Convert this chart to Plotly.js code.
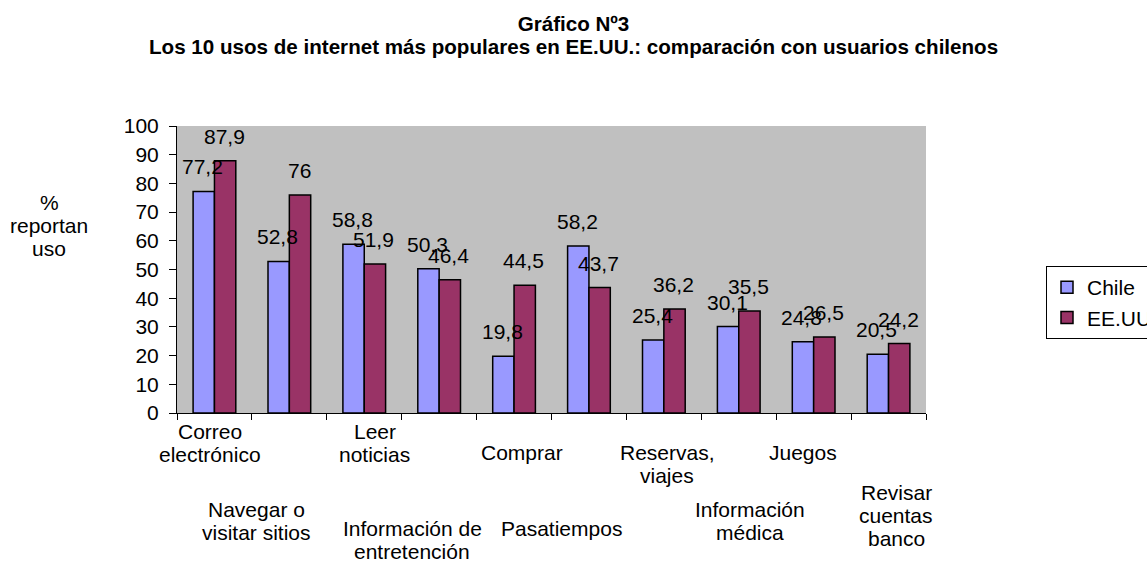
<!DOCTYPE html>
<html>
<head>
<meta charset="utf-8">
<script src="https://cdn.plot.ly/plotly-3.0.1.min.js"></script>
<style>html,body{margin:0;padding:0;background:#fff;}#chart{width:1147px;height:561px;}</style>
</head>
<body>
<div id="chart"></div>
<script>
// ---- data ----
const categories = ["Correo electrónico", "Navegar o visitar sitios", "Leer noticias", "Información de entretención", "Comprar", "Pasatiempos", "Reservas, viajes", "Información médica", "Juegos", "Revisar cuentas banco"];
const categoryLabels = ["Correo<br>electrónico", "Navegar o<br>visitar sitios", "Leer<br>noticias", "Información de<br>entretención", "Comprar", "Pasatiempos", "Reservas,<br>viajes", "Información<br>médica", "Juegos", "Revisar<br>cuentas<br>banco"];
const chile = [77.2, 52.8, 58.8, 50.3, 19.8, 58.2, 25.4, 30.1, 24.8, 20.5];
const eeuu = [87.9, 76, 51.9, 46.4, 44.5, 43.7, 36.2, 35.5, 26.5, 24.2];
const seriesNames = ["Chile", "EE.UU."];
const yTicks = [0, 10, 20, 30, 40, 50, 60, 70, 80, 90, 100];
const titleLines = ["Gráfico Nº3", "Los 10 usos de internet más populares en EE.UU.: comparación con usuarios chilenos"];
const yTitle = "%<br>reportan<br>uso";

// ---- layout constants ----
const FONT = "Liberation Sans, Arial, sans-serif";
const FS = 21;
const LINE_PX = 23;
const W = 1147, H = 561;
const M = {l: 177, r: 221, t: 126, b: 148, autoexpand: false};
const plotW = W - M.l - M.r;
const plotH = H - M.t - M.b;
// staggered category label placement (px): vertical centres and horizontal shifts
const labelCenterPx = [443, 521, 443, 540, 452, 528, 464, 521, 452, 515];
const labelShiftPx = [-4.5, -33, 10.5, -27, 8, -27.5, 3.5, 11, -10.7, 7.5];
const barOffsetPx = 10.7;

const fmt = v => String(v).replace('.', ',');
const pyToPaper = py => (H - M.b - py) / plotH;

const traces = [
  {type: 'bar', name: seriesNames[0], x: categories, y: chile,
   marker: {color: '#9999FF', line: {color: '#000', width: 1.5}}, hoverinfo: 'y'},
  {type: 'bar', name: seriesNames[1], x: categories, y: eeuu,
   marker: {color: '#993366', line: {color: '#000', width: 1.5}}, hoverinfo: 'y'}
];

const annotations = [];
[chile, eeuu].forEach((vals, s) => {
  vals.forEach((v, i) => {
    annotations.push({
      xref: 'x', yref: 'y', x: categories[i], y: v,
      text: fmt(v), showarrow: false,
      xanchor: 'center', yanchor: 'bottom',
      xshift: (s === 0 ? -barOffsetPx : barOffsetPx) - 1, yshift: 11,
      font: {family: FONT, size: FS, color: '#000'}
    });
  });
});
// multi-line text with Excel-like line spacing: one annotation per line
function addLines(text, xref, x, centerPy, xshift) {
  const lines = text.split('<br>');
  const n = lines.length;
  lines.forEach((ln, k) => {
    annotations.push({
      xref: xref, yref: 'paper', x: x, xshift: xshift || 0,
      y: pyToPaper(centerPy + (k - (n - 1) / 2) * LINE_PX),
      text: ln, showarrow: false, xanchor: 'center', yanchor: 'middle',
      font: {family: FONT, size: FS, color: '#000'}
    });
  });
}
categoryLabels.forEach((lab, i) => addLines(lab, 'x', categories[i], labelCenterPx[i], labelShiftPx[i]));
addLines(yTitle, 'paper', (49 - M.l) / plotW, 225, 0);

annotations.push({
  xref: 'paper', yref: 'paper', x: (573.5 - M.l) / plotW, y: pyToPaper(46),
  text: '<b>' + titleLines[1] + '</b>', showarrow: false, xanchor: 'center', yanchor: 'middle',
  font: {family: FONT, size: 20.6, color: '#000'}
});

const layout = {
  width: W, height: H,
  margin: M,
  paper_bgcolor: '#fff',
  plot_bgcolor: '#C0C0C0',
  font: {family: FONT, size: FS, color: '#000'},
  title: {
    text: '<b>' + titleLines[0] + '</b>',
    font: {family: FONT, size: 20.6, color: '#000'},
    x: 0.5, xref: 'container', xanchor: 'center',
    y: 1 - 24 / H, yref: 'container', yanchor: 'middle'
  },
  barmode: 'group',
  bargap: 0.43,
  bargroupgap: 0,
  showlegend: true,
  legend: {
    xref: 'container', yref: 'container',
    x: 1046 / W, y: 1 - 266 / H, xanchor: 'left', yanchor: 'top',
    bgcolor: '#fff', bordercolor: '#000', borderwidth: 1,
    font: {family: FONT, size: FS, color: '#000'},
    traceorder: 'normal'
  },
  xaxis: {
    type: 'category',
    range: [-0.5, categories.length - 0.5],
    autorange: false,
    showticklabels: false,
    ticks: 'outside', ticklen: 6, tickcolor: '#000', tickwidth: 1,
    tickson: 'boundaries',
    showline: true, linecolor: '#000', linewidth: 1,
    showgrid: false, zeroline: false, fixedrange: true
  },
  yaxis: {
    range: [0, 100],
    autorange: false,
    tickvals: yTicks,
    ticktext: yTicks.map(String),
    ticks: 'outside', ticklen: 7, tickcolor: '#000', tickwidth: 1,
    ticklabelstandoff: 6,
    tickfont: {family: FONT, size: FS, color: '#000'},
    showline: true, linecolor: '#000', linewidth: 1,
    showgrid: false, zeroline: false, fixedrange: true
  },
  annotations: annotations
};

Plotly.newPlot('chart', traces, layout, {displayModeBar: false, staticPlot: true});
</script>
</body>
</html>
